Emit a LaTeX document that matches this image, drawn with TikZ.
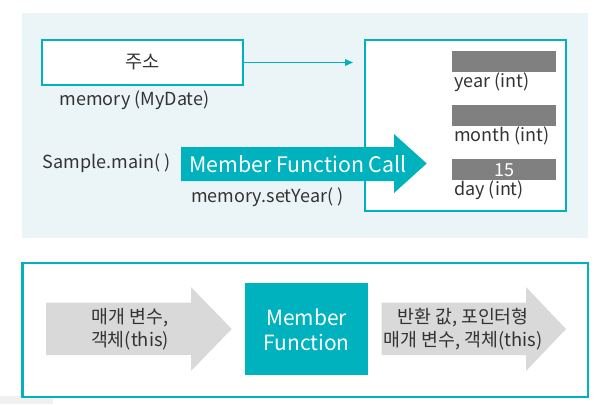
\documentclass[tikz,border=0pt]{standalone}
\usepackage{fontspec}
\setmainfont{Noto Sans CJK KR}
\usetikzlibrary{arrows.meta, positioning}
\definecolor{tealc}{HTML}{00B2BE}
\definecolor{panelbg}{HTML}{EBF4F6}
\definecolor{bargray}{HTML}{808080}
\definecolor{arrowgray}{HTML}{D9D9D9}
\definecolor{txtgray}{HTML}{333333}
\begin{document}
\begin{tikzpicture}[x=0.75pt, y=-0.75pt,
  lbl/.style={text=txtgray, inner sep=0pt, font=\fontsize{13.5}{16}\selectfont},
  tbox/.style={draw=tealc, line width=2pt, fill=white, inner sep=0pt},
  bar/.style={fill=bargray, inner sep=0pt, minimum width=78pt, minimum height=15.75pt}]
  \useasboundingbox (0,0) rectangle (598,404);
  \fill[panelbg] (22,13) rectangle (588,238);
  \fill[black!6] (0,396) rectangle (53,404);
  \node[tbox, minimum width=150.75pt, minimum height=33.75pt, font=\fontsize{14}{16}\selectfont, text=txtgray] (addr) at (142.5,62.5) {주소};
  \node[lbl] (memvar) at (134.5,100.7) {memory (MyDate)};
  \node[tbox, minimum width=150.75pt, minimum height=128.25pt] (obj) at (465.5,125.5) {};
  \draw[tealc, line width=0.8pt, -{Triangle[length=6pt, width=5pt]}, shorten >=8pt] (addr.east) -- (addr.east -| obj.west);
  \node[bar] (yearbar) at (504,61.3) {};
  \node[bar] (monthbar) at (504,115.5) {};
  \node[bar, text=white, font=\fontsize{13.5}{16}\selectfont] (daybar) at (504,169.7) {15};
  \node[lbl, anchor=west] (year) at (454,82.7) {year (int)};
  \node[lbl, anchor=west] (month) at (454,135.5) {month (int)};
  \node[lbl, anchor=west] (day) at (454,190.7) {day (int)};
  \fill[tealc] (181,147) -- (394,147) -- (394,134) -- (426.7,163.5) -- (394,193) -- (394,181) -- (181,181) -- cycle;
  \node[text=white, inner sep=0pt, font=\fontsize{16}{18}\selectfont] (call) at (298,164) {Member Function Call};
  \node[lbl, anchor=east] (main) at (170.6,163) {Sample.main( )};
  \node[lbl, anchor=west] (setyear) at (191,197) {memory.setYear( )};
  \draw[tealc, line width=1.75pt] (22.5,263) rectangle (588,396.7);
  \fill[arrowgray] (46,302.7) -- (191,302.7) -- (191,287) -- (231.7,329) -- (191,371) -- (191,355) -- (46,355) -- cycle;
  \node[lbl, align=center, font=\fontsize{13.75}{17.25}\selectfont] (params) at (130,329.5) {매개 변수,\\객체(this)};
  \fill[tealc] (245,283) rectangle (368,375);
  \node[text=white, inner sep=0pt, align=center, font=\fontsize{15.7}{18.75}\selectfont] (func) at (306.5,329.5) {Member\\Function};
  \fill[arrowgray] (381.7,302.7) -- (526,302.7) -- (526,287) -- (566,329) -- (526,371) -- (526,355) -- (381.7,355) -- cycle;
  \node[lbl, align=center, font=\fontsize{13.75}{17.25}\selectfont] (ret) at (463,329.5) {반환 값, 포인터형\\매개 변수, 객체(this)};
\end{tikzpicture}
\end{document}
